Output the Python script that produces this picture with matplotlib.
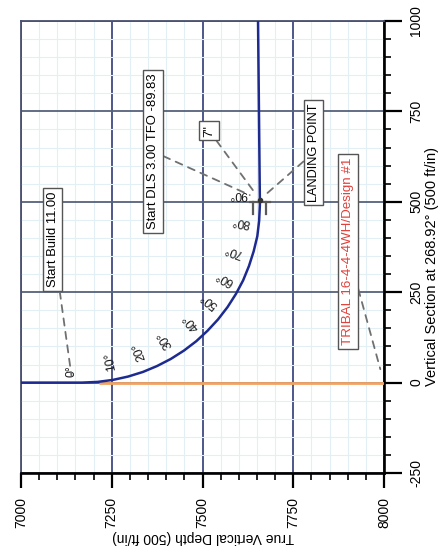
import matplotlib
matplotlib.use("Agg")
import matplotlib.pyplot as plt
from matplotlib.ticker import FixedLocator, MultipleLocator

plt.rcParams["font.family"] = ["Liberation Sans", "DejaVu Sans"]

# ---- survey of the wellbore (TVD vs vertical section, ft) ----
inclination = [0, 0, 5, 10, 15, 20, 25, 30, 35, 40, 45, 50, 55, 60,
               65, 70, 75, 80, 85, 90, 90, 90]
tvd = [7000, 7168, 7211, 7253, 7295, 7336, 7375, 7413, 7449, 7483, 7514,
       7543, 7569, 7592, 7612, 7628, 7641, 7651, 7656, 7658, 7658, 7653]
vsec = [0, 0, 1.9, 7.4, 16.7, 29.5, 45.9, 65.6, 88.6, 114.6, 143.5,
        175.0, 208.9, 245.0, 282.9, 322.4, 363.2, 404.9, 447.3, 490.0,
        506.0, 1000.0]

# offset plan line
offset_tvd = [7215, 8000]
offset_vs = [0, 0]

# key points
kop_tvd, kop_vs = 7140, 0
landing_tvd, landing_vs = 7658, 506

# inclination annotations every 10 degrees
angle_marks = [0, 10, 20, 30, 40, 50, 60, 70, 80, 90]
angle_text = ["0°", "10°", "20°", "30°", "40°", "50°", "60°", "70°", "80°", "90°"]

tvd_ticks = [7000, 7250, 7500, 7750, 8000]
tvd_ticklabels = ["7000", "7250", "7500", "7750", "8000"]
vs_ticks = [-250, 0, 250, 500, 750, 1000]
vs_ticklabels = ["-250", "0", "250", "500", "750", "1000"]

# ---- figure ----
fig = plt.figure(figsize=(4.41, 5.50), dpi=100)
ax = fig.add_axes([21 / 441, 77 / 550, 363 / 441, 452 / 550])
ax.set_xlim(7000, 8000)
ax.set_ylim(-250, 1000)
ax.set_axisbelow(True)

ax.xaxis.set_major_locator(FixedLocator(tvd_ticks))
ax.xaxis.set_minor_locator(MultipleLocator(50))
ax.yaxis.set_major_locator(FixedLocator(vs_ticks))
ax.yaxis.set_minor_locator(MultipleLocator(50))
ax.set_xticklabels(tvd_ticklabels, rotation=90, fontsize=10)
ax.yaxis.tick_right()
ax.set_yticklabels(vs_ticklabels, rotation=90, fontsize=10, va="center")

ax.tick_params(axis="both", which="both", direction="out", color="black")
ax.tick_params(axis="x", which="major", length=11, width=1.6, pad=6)
ax.tick_params(axis="y", which="major", length=13, width=1.6, pad=5)
ax.tick_params(axis="both", which="minor", length=5, width=1.2)
ax.tick_params(axis="y", which="both", left=False, right=True)

# grid
ax.grid(which="minor", color="#e2eff4", lw=0.8)
ax.xaxis.grid(True, which="major", color="#3f4a82", lw=1.3)
ax.yaxis.grid(True, which="major", color="#56617a", lw=1.3)

for side in ("left", "top"):
    ax.spines[side].set_color("#4a5070")
    ax.spines[side].set_linewidth(1.3)
for side in ("right", "bottom"):
    ax.spines[side].set_color("black")
    ax.spines[side].set_linewidth(1.9)

# offset plan and wellbore
ax.plot(offset_tvd, offset_vs, color="#f2a262", lw=2.0, zorder=3,
        solid_capstyle="butt")
ax.plot(tvd, vsec, color="#1d2b90", lw=1.8, zorder=4)

# casing shoe symbol at the landing point
ax.plot([landing_tvd - 27, landing_tvd + 27], [landing_vs - 6, landing_vs - 6],
        color="#5a5a5a", lw=1.6, zorder=5)
for dx in (-19, 17):
    ax.plot([landing_tvd + dx, landing_tvd + dx],
            [landing_vs - 6, landing_vs - 40], color="#5a5a5a", lw=1.6, zorder=5)
ax.plot([landing_tvd], [landing_vs], "o", ms=3, color="#333333", zorder=6)

# inclination labels
label_offsets = [(-10, 11), (-2, 19), (-3.5, 21), (-6, 19), (-5, 19.5),
                 (-9, 19), (-11, 16), (-15, 15.5), (-16.5, 14.5), (-22, 11)]
for a, txt, off in zip(angle_marks, angle_text, label_offsets):
    i = 1 + inclination[1:].index(a)
    ax.annotate(txt, (tvd[i], vsec[i]), xytext=off, textcoords="offset pixels",
                rotation=90 + a, ha="center", va="center", fontsize=8.8,
                color="#1a1a1a", zorder=7)

box = dict(boxstyle="square,pad=0.28", fc="white", ec="#555555", lw=1.0)
dash = dict(arrowstyle="-", color="#707070", lw=1.3, linestyle=(0, (4, 3.5)),
            shrinkA=0)

ax.annotate("Start Build 11.00", xy=(kop_tvd, kop_vs + 12),
            xytext=(7087, 395), rotation=90, ha="center", va="center",
            fontsize=9.4, bbox=box, arrowprops=dict(dash, shrinkB=2), zorder=8)
ax.annotate("Start DLS 3.00 TFO -89.83", xy=(landing_tvd, landing_vs),
            xytext=(7364, 639), rotation=90, ha="center", va="center",
            fontsize=9.4, bbox=box, arrowprops=dict(dash, shrinkB=8), zorder=8)
ax.annotate('7"', xy=(landing_tvd, landing_vs),
            xytext=(7518, 697), rotation=90, ha="center", va="center",
            fontsize=9.4, bbox=box, arrowprops=dict(dash, shrinkB=5), zorder=8)
ax.annotate("LANDING POINT", xy=(landing_tvd, landing_vs),
            xytext=(7806, 636), rotation=90, ha="center", va="center",
            fontsize=9.2, bbox=box, arrowprops=dict(dash, shrinkB=4), zorder=8)
ax.annotate("TRIBAL 16-4-4-4WH/Design #1", xy=(offset_tvd[-1], offset_vs[-1]),
            xytext=(7901, 362), rotation=90, ha="center", va="center",
            fontsize=9.6, color="#e2403a", bbox=box,
            arrowprops=dict(dash, shrinkB=10), zorder=8)

# axis titles
fig.text(203 / 441, 1 - 537 / 550, "True Vertical Depth (500 ft/in)",
         rotation=180, ha="center", va="center", fontsize=10)
fig.text(432 / 441, 1 - 266 / 550, "Vertical Section at 268.92° (500 ft/in)",
         rotation=90, ha="center", va="center", fontsize=10.5)

fig.savefig("out.png", dpi=100, facecolor="white")
